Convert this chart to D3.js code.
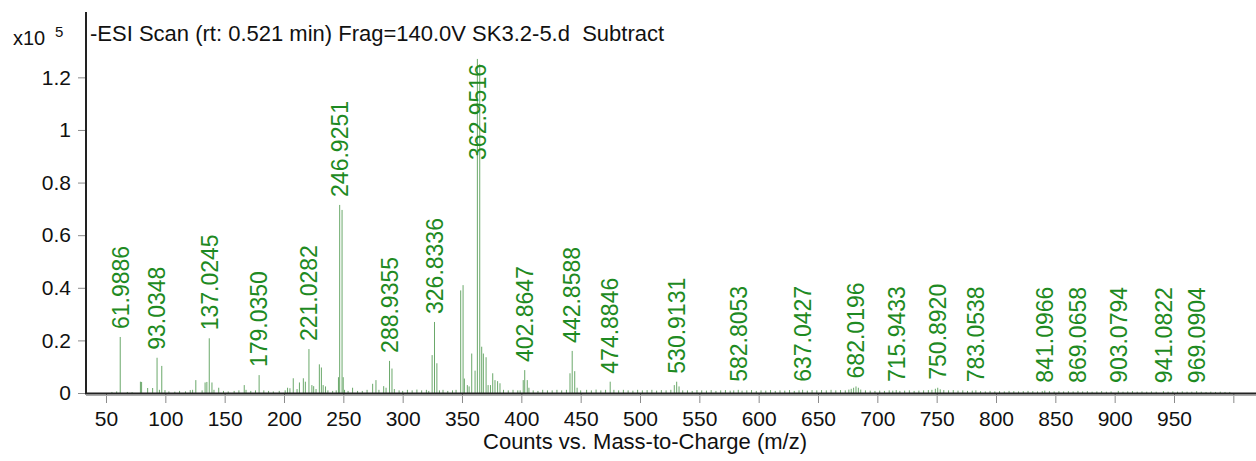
<!DOCTYPE html>
<html>
<head>
<meta charset="utf-8">
<script src="https://cdn.jsdelivr.net/npm/d3@7"></script>
<style>
  body { margin: 0; background: #fff; }
  svg { display: block; font-family: "Liberation Sans", Arial, sans-serif; }
  .tick line { stroke: #8a8a8a; }
  .tick text { fill: #111; font-size: 21px; }
</style>
</head>
<body>
<div class="chart"></div>
<script>
// spectrum data (counts in units of 1e5)
const majorMz = [61.99, 79.0, 80.0, 85.1, 89.3, 93.03, 97.0, 125.7, 133.5, 135.0, 137.02, 139.3,
   166.5, 179.04, 207.8, 213.0, 216.3, 218.0, 221.03, 223.5, 225.0, 229.8, 231.5, 233.0, 235.0,
   245.9, 246.93, 248.92, 249.9, 274.7, 277.5, 284.0, 286.0, 288.94, 291.0,
   324.83, 326.83, 328.83, 348.9, 350.9, 352.0, 354.5, 356.0, 358.2, 361.0, 362.95, 364.95,
   366.6, 368.0, 370.3, 372.0, 374.0, 375.9, 377.8, 380.0, 382.0,
   401.6, 402.86, 405.0, 406.4, 441.0, 442.86, 445.0, 447.0, 474.88, 528.9, 530.91, 532.9,
   678.0, 680.0, 682.02, 684.0, 748.9, 750.89, 753.0];
const majorCounts = [0.213, 0.043, 0.042, 0.019, 0.019, 0.134, 0.103, 0.049, 0.040, 0.042, 0.208, 0.040,
   0.030, 0.068, 0.056, 0.040, 0.056, 0.043, 0.167, 0.030, 0.026, 0.109, 0.097, 0.030, 0.025,
   0.060, 0.715, 0.696, 0.060, 0.035, 0.049, 0.026, 0.020, 0.122, 0.093,
   0.144, 0.270, 0.113, 0.390, 0.410, 0.055, 0.030, 0.025, 0.150, 0.085, 1.27, 1.25,
   0.176, 0.150, 0.136, 0.030, 0.030, 0.075, 0.049, 0.045, 0.037,
   0.049, 0.087, 0.049, 0.020, 0.075, 0.160, 0.083, 0.020, 0.043, 0.030, 0.043, 0.025,
   0.016, 0.020, 0.025, 0.020, 0.016, 0.020, 0.014];

// low level baseline peaks
const noiseMz = [55, 59, 68, 72, 95, 99.7, 103, 108, 112, 117, 121, 123, 131, 141, 145, 149, 153,
   158, 162, 168, 172, 176, 183, 187, 191, 196, 201, 203, 205, 211, 227, 237, 241, 244, 251,
   254, 257.8, 262, 266, 270, 280, 293, 297, 300, 304, 308, 312, 316, 320, 322, 331, 334, 338,
   342, 345, 385, 389, 393, 397, 399, 410, 414, 418, 422, 426, 430, 434, 438, 450, 455, 459,
   463, 467, 471, 478, 482, 486, 490, 494, 498, 502, 506, 510, 514, 518, 522, 526, 536, 540,
   544, 548, 552, 556, 560, 564, 568, 572, 576, 579, 582.81, 586, 590, 594, 598, 602, 606,
   610, 614, 618, 622, 626, 630, 634, 637.04, 641, 645, 649, 653, 657, 661, 665, 669, 673,
   676, 686, 690, 694, 698, 702, 706, 710, 713, 715.94, 719, 723, 727, 731, 735, 739, 743,
   746, 756, 760, 764, 768, 772, 776, 780, 783.05, 787, 791, 795, 799, 803, 807, 811, 815,
   819, 823, 827, 831, 835, 839, 841.1, 845, 849, 853, 857, 861, 865, 869.07, 873, 877, 881,
   885, 889, 893, 897, 903.08, 907, 911, 915, 919, 923, 927, 931, 935, 941.08, 945, 949, 953,
   957, 961, 965, 969.09, 973, 977, 981, 985, 989, 993, 997];
const noiseCounts = [0.004, 0.006, 0.004, 0.003, 0.012, 0.011, 0.006, 0.005, 0.008, 0.006, 0.011,
   0.012, 0.010, 0.012, 0.020, 0.008, 0.006, 0.008, 0.010, 0.012, 0.008, 0.010, 0.010, 0.008,
   0.006, 0.008, 0.010, 0.020, 0.018, 0.015, 0.015, 0.010, 0.008, 0.010, 0.012, 0.008, 0.020,
   0.008, 0.008, 0.012, 0.012, 0.015, 0.010, 0.008, 0.012, 0.010, 0.013, 0.010, 0.012, 0.008,
   0.010, 0.012, 0.008, 0.010, 0.012, 0.012, 0.010, 0.012, 0.010, 0.010, 0.010, 0.008, 0.012,
   0.010, 0.010, 0.012, 0.010, 0.012, 0.010, 0.012, 0.010, 0.013, 0.010, 0.012, 0.012, 0.010,
   0.012, 0.010, 0.009, 0.012, 0.010, 0.011, 0.012, 0.009, 0.011, 0.010, 0.012, 0.010, 0.010,
   0.008, 0.011, 0.010, 0.009, 0.011, 0.008, 0.010, 0.011, 0.009, 0.010, 0.012, 0.009, 0.010,
   0.011, 0.008, 0.010, 0.009, 0.011, 0.008, 0.010, 0.009, 0.011, 0.008, 0.010, 0.012, 0.009,
   0.011, 0.010, 0.011, 0.010, 0.012, 0.010, 0.011, 0.010, 0.013, 0.013, 0.010, 0.009, 0.008,
   0.009, 0.008, 0.010, 0.009, 0.011, 0.008, 0.009, 0.010, 0.008, 0.009, 0.010, 0.011, 0.012,
   0.011, 0.010, 0.011, 0.009, 0.010, 0.008, 0.009, 0.010, 0.007, 0.006, 0.008, 0.006, 0.007,
   0.006, 0.008, 0.007, 0.006, 0.007, 0.008, 0.007, 0.006, 0.007, 0.009, 0.007, 0.006, 0.007,
   0.006, 0.007, 0.006, 0.008, 0.006, 0.007, 0.005, 0.006, 0.007, 0.005, 0.006, 0.008, 0.005,
   0.006, 0.007, 0.005, 0.006, 0.005, 0.006, 0.005, 0.007, 0.005, 0.006, 0.005, 0.006, 0.005,
   0.005, 0.007, 0.005, 0.004, 0.005, 0.004, 0.005, 0.004, 0.004];

// annotated peaks
const peakLabels = ["61.9886", "93.0348", "137.0245", "179.0350", "221.0282", "246.9251",
   "288.9355", "326.8336", "362.9516", "402.8647", "442.8588", "474.8846", "530.9131",
   "582.8053", "637.0427", "682.0196", "715.9433", "750.8920", "783.0538", "841.0966",
   "869.0658", "903.0794", "941.0822", "969.0904"];
const peakLabelCounts = [0.213, 0.134, 0.208, 0.068, 0.167, 0.715, 0.122, 0.270, 1.27, 0.087,
   0.160, 0.043, 0.043, 0.012, 0.012, 0.025, 0.011, 0.020, 0.010, 0.009, 0.008, 0.008, 0.007, 0.007];

const yTicks = [0, 0.2, 0.4, 0.6, 0.8, 1, 1.2];
const xTicks = [50, 100, 150, 200, 250, 300, 350, 400, 450, 500, 550, 600, 650, 700, 750,
   800, 850, 900, 950, 1000];

const title = "-ESI Scan (rt: 0.521 min) Frag=140.0V SK3.2-5.d  Subtract";
const xTitle = "Counts vs. Mass-to-Charge (m/z)";

// setup chart
const width = 1256;
const height = 461;
const left = 86;
const base = 393;
const labelColor = "#1e8a22";
const peakColor = "#6aa86a";

const svg = d3.select(".chart")
   .append("svg")
   .attr("width", width)
   .attr("height", height);

const x = d3.scaleLinear().domain([33.15, 1019.1]).range([left, width]);
const y = d3.scaleLinear().domain([0, 1.45]).range([base, 11.6]);

// peaks
const peaks = noiseMz.map((m, i) => ({ mz: m, c: noiseCounts[i] }))
   .concat(majorMz.map((m, i) => ({ mz: m, c: majorCounts[i] })));

svg.append("g")
   .selectAll("line")
   .data(peaks)
   .enter()
   .append("line")
   .attr("x1", (d) => x(d.mz))
   .attr("x2", (d) => x(d.mz))
   .attr("y1", y(0))
   .attr("y2", (d) => y(d.c))
   .attr("stroke", peakColor)
   .attr("stroke-width", 1);

// axes
const yAxis = d3.axisLeft(y)
   .tickValues(yTicks)
   .tickSize(8)
   .tickPadding(7)
   .tickFormat(d3.format("~g"));
svg.append("g")
   .attr("transform", `translate(${left},0)`)
   .call(yAxis)
   .call((g) => g.select(".domain").remove());

const xAxis = d3.axisBottom(x)
   .tickValues(xTicks)
   .tickSize(10)
   .tickPadding(8)
   .tickFormat((d) => (d === 1000 ? "" : d));
svg.append("g")
   .attr("transform", `translate(0,${base})`)
   .call(xAxis)
   .call((g) => g.select(".domain").remove());

svg.append("line")
   .attr("x1", left).attr("x2", left)
   .attr("y1", 12).attr("y2", base + 1)
   .attr("stroke", "#222").attr("stroke-width", 2);
svg.append("line")
   .attr("x1", left - 1).attr("x2", width)
   .attr("y1", base + 0.5).attr("y2", base + 0.5)
   .attr("stroke", "#222").attr("stroke-width", 2);
svg.append("line")
   .attr("x1", left).attr("x2", width)
   .attr("y1", base + 2.5).attr("y2", base + 2.5)
   .attr("stroke", "#aaa").attr("stroke-width", 1);

// peak labels, kept below the title line
svg.append("g")
   .selectAll("text")
   .data(peakLabels)
   .enter()
   .append("text")
   .attr("fill", labelColor)
   .attr("font-size", 23)
   .attr("dy", "0.36em")
   .text((d) => d)
   .attr("transform", function (d, i) {
      const len = this.getComputedTextLength();
      const yy = Math.max(y(peakLabelCounts[i]) - 8, 64 + len);
      return `translate(${x(+d)},${yy}) rotate(-90)`;
   });

// titles
svg.append("text")
   .attr("x", 90).attr("y", 41)
   .attr("font-size", 22)
   .attr("fill", "#111")
   .style("white-space", "pre")
   .text(title);

svg.append("text")
   .attr("x", 13).attr("y", 45)
   .attr("font-size", 20)
   .attr("fill", "#111")
   .text("x10");
svg.append("text")
   .attr("x", 55).attr("y", 37)
   .attr("font-size", 15)
   .attr("fill", "#111")
   .text("5");

svg.append("text")
   .attr("x", 645).attr("y", 449)
   .attr("text-anchor", "middle")
   .attr("font-size", 22)
   .attr("fill", "#111")
   .text(xTitle);
</script>
</body>
</html>
